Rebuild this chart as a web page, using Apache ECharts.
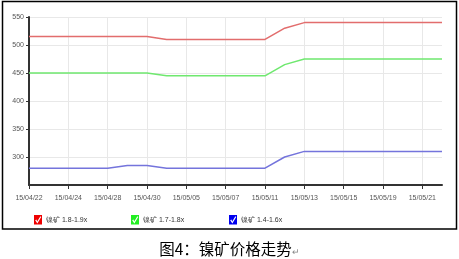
<!DOCTYPE html>
<html><head><meta charset="utf-8">
<script src="https://cdn.jsdelivr.net/npm/echarts@6/dist/echarts.min.js"></script>
<style>html,body{margin:0;padding:0;background:#fff}#c{width:459px;height:259px}</style>
</head><body><div id="c"></div>
<script>
var categories = ['15/04/22','15/04/23','15/04/24','15/04/27','15/04/28','15/04/29','15/04/30','15/05/04','15/05/05','15/05/06','15/05/07','15/05/08','15/05/11','15/05/12','15/05/13','15/05/14','15/05/15','15/05/18','15/05/19','15/05/20','15/05/21','15/05/22'];
var seriesNames = ['镍矿 1.8-1.9x','镍矿 1.7-1.8x','镍矿 1.4-1.6x'];
var red = [515,515,515,515,515,515,515,510,510,510,510,510,510,530,540,540,540,540,540,540,540,540];
var green = [450,450,450,450,450,450,450,445,445,445,445,445,445,465,475,475,475,475,475,475,475,475];
var blue = [280,280,280,280,280,285,285,280,280,280,280,280,280,300,310,310,310,310,310,310,310,310];
var caption = '图4：镍矿价格走势';

var chk = 'path://M0 0 L10 0 L10 12 L0 12 Z M1.5 6.5 L4.2 10.5 L9 2.5 L8 1.5 L4 8 L3 5.5 Z';
var lineCols = ['#e26d6d','#6fe86f','#7474dc'];
var iconCols = ['#ee0000','#22ee22','#0000ee'];
var dataArr = [red, green, blue];
var font = 'Liberation Sans';
function mkLegend(i, left){
  return {data:[seriesNames[i]], left:left, top:210, icon:chk, itemWidth:8, itemHeight:10, itemGap:0,
    textStyle:{fontSize:7, color:'#333', fontFamily:font, padding:[3,0,0,-1]}, selectedMode:false};
}
var chart = echarts.init(document.getElementById('c'), null, {renderer:'canvas'});
chart.setOption({
  animation:false,
  backgroundColor:'#fff',
  title:{text:caption+'{r|↵}', left:'center', top:236, textStyle:{fontSize:15.5, fontWeight:'normal', color:'#000', fontFamily:'Noto Sans CJK SC', rich:{r:{fontSize:9, color:'#888', padding:[6,0,0,0]}}}},
  grid:{left:29, right:17, top:17, bottom:74},
  legend:[mkLegend(0,29), mkLegend(1,126), mkLegend(2,224)],
  xAxis:{type:'category', data:categories, boundaryGap:false,
    axisLine:{lineStyle:{color:'#333', width:2}},
    axisTick:{interval:1, length:4, lineStyle:{color:'#333'}},
    axisLabel:{interval:1, fontSize:7, color:'#555', fontFamily:font, margin:10},
    splitLine:{show:true, interval:1, lineStyle:{color:'#e8e8e8'}}},
  yAxis:{type:'value', min:250, max:550, interval:50,
    axisLine:{show:true, lineStyle:{color:'#333', width:2}},
    axisTick:{show:true, length:3, lineStyle:{color:'#333'}},
    axisLabel:{showMinLabel:false, fontSize:7, color:'#555', fontFamily:font, margin:5},
    splitLine:{lineStyle:{color:'#e8e8e8'}}},
  series: dataArr.map(function(d,i){return {name:seriesNames[i], type:'line', data:d, symbol:'none',
    lineStyle:{color:lineCols[i], width:1.5}, itemStyle:{color:iconCols[i]}};}),
  graphic:[{type:'rect', shape:{x:2.5, y:1.5, width:454, height:227.5}, style:{fill:null, stroke:'#000', lineWidth:1.5}, silent:true}]
});
</script></body></html>
